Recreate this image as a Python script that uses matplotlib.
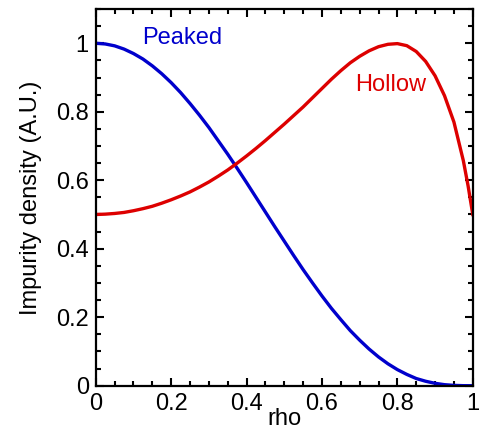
import matplotlib
matplotlib.use("Agg")
import matplotlib.pyplot as plt
from matplotlib.ticker import MultipleLocator

plt.rcParams['font.family'] = ['Liberation Sans', 'DejaVu Sans']

# values
rho_peaked = [0.0, 0.025, 0.05, 0.075, 0.1, 0.125, 0.15, 0.175, 0.2, 0.225,
              0.25, 0.275, 0.3, 0.325, 0.35, 0.375, 0.4, 0.425, 0.45, 0.475,
              0.5, 0.525, 0.55, 0.575, 0.6, 0.625, 0.65, 0.675, 0.7, 0.725,
              0.75, 0.775, 0.8, 0.825, 0.85, 0.875, 0.9, 0.925, 0.95, 0.975, 1.0]
peaked = [1.0, 0.998, 0.9925, 0.983, 0.970, 0.954, 0.934, 0.911, 0.885, 0.856,
          0.824, 0.790, 0.754, 0.715, 0.676, 0.635, 0.593, 0.550, 0.507, 0.464,
          0.422, 0.380, 0.339, 0.300, 0.262, 0.226, 0.193, 0.161, 0.133, 0.107,
          0.084, 0.064, 0.047, 0.033, 0.021, 0.013, 0.007, 0.003, 0.001, 0.0001, 0.0]

rho_hollow = [0.0, 0.025, 0.05, 0.075, 0.1, 0.125, 0.15, 0.175, 0.2, 0.225,
              0.25, 0.275, 0.3, 0.325, 0.35, 0.375, 0.4, 0.425, 0.45, 0.475,
              0.5, 0.525, 0.55, 0.575, 0.6, 0.625, 0.65, 0.675, 0.7, 0.725,
              0.75, 0.775, 0.8, 0.825, 0.85, 0.875, 0.9, 0.925, 0.95, 0.975,
              0.9875, 1.0]
hollow = [0.500, 0.501, 0.503, 0.506, 0.511, 0.517, 0.524, 0.533, 0.543, 0.554,
          0.566, 0.580, 0.595, 0.612, 0.630, 0.650, 0.671, 0.693, 0.716, 0.740,
          0.764, 0.789, 0.814, 0.841, 0.868, 0.895, 0.920, 0.943, 0.962, 0.978,
          0.990, 0.997, 0.999, 0.993, 0.976, 0.947, 0.905, 0.847, 0.770, 0.657,
          0.584, 0.500]

fig = plt.figure(figsize=(4.79, 4.30), dpi=100)
ax = fig.add_axes([0.200, 0.103, 0.787, 0.876])

ax.plot(rho_peaked, peaked, color='#0000cc', lw=2.4)
ax.plot(rho_hollow, hollow, color='#dd0000', lw=2.4)

ax.text(0.122, 1.015, 'Peaked', color='#0000cc', fontsize=17, va='center')
ax.text(0.688, 0.878, 'Hollow', color='#dd0000', fontsize=17, va='center')

ax.set_xlim(0, 1)
ax.set_ylim(0, 1.1)
ax.xaxis.set_minor_locator(MultipleLocator(0.05))
ax.yaxis.set_minor_locator(MultipleLocator(0.05))
ax.set_xticks([0, 0.2, 0.4, 0.6, 0.8, 1.0])
ax.set_xticklabels(['0', '0.2', '0.4', '0.6', '0.8', '1'])
ax.set_yticks([0, 0.2, 0.4, 0.6, 0.8, 1.0])
ax.set_yticklabels(['0', '0.2', '0.4', '0.6', '0.8', '1'])

ax.tick_params(which='both', direction='in', top=True, right=True, width=1.5)
ax.tick_params(which='major', length=6, labelsize=17, pad=5)
ax.tick_params(which='minor', length=3.5)
for s in ax.spines.values():
    s.set_linewidth(1.6)

ax.set_xlabel('rho', fontsize=17, labelpad=-5)
ax.set_ylabel('Impurity density (A.U.)', fontsize=17, labelpad=10)

fig.savefig('out.png', dpi=100)
